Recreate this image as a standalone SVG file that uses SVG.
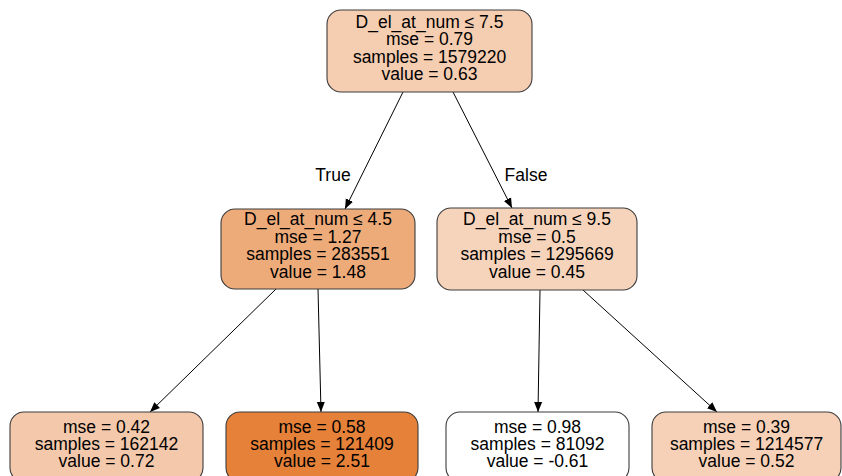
<svg xmlns="http://www.w3.org/2000/svg" width="842" height="476" viewBox="0 0 842 476">
  <style>
    .box { stroke: #3c3c3c; stroke-width: 1.1; }
    .lbl { font-family: "Liberation Sans", Arial, Helvetica, sans-serif; font-size: 17.5px; fill: #000; text-anchor: middle; }
    .edge { stroke: #000; stroke-width: 1; fill: none; marker-end: url(#arrow); }
  </style>
  <defs>
    <marker id="arrow" viewBox="0 0 10 10" refX="10" refY="5" markerWidth="10" markerHeight="10" markerUnits="userSpaceOnUse" orient="auto">
      <path d="M0,1 L10,5 L0,9 Z" fill="#000"/>
    </marker>
  </defs>
  <rect width="842" height="476" fill="#ffffff"/>

  <g id="edges">
    <line class="edge" x1="403" y1="92" x2="345" y2="209"/>
    <line class="edge" x1="453" y1="92" x2="512" y2="208"/>
    <line class="edge" x1="276" y1="289" x2="150" y2="412"/>
    <line class="edge" x1="318" y1="289" x2="321" y2="412"/>
    <line class="edge" x1="540" y1="290" x2="538" y2="412"/>
    <line class="edge" x1="583" y1="290" x2="717" y2="412"/>
    <text class="lbl" x="333" y="181">True</text>
    <text class="lbl" x="526" y="181">False</text>
  </g>

  <g id="node0">
    <rect class="box" x="327" y="10" width="205" height="82" rx="14" fill="#f5cdb0"/>
    <text class="lbl" x="429.5" y="27.5">D_el_at_num ≤ 7.5</text>
    <text class="lbl" x="429.5" y="45">mse = 0.79</text>
    <text class="lbl" x="429.5" y="62.5">samples = 1579220</text>
    <text class="lbl" x="429.5" y="80">value = 0.63</text>
  </g>

  <g id="node1">
    <rect class="box" x="221" y="209" width="194" height="80" rx="14" fill="#eeab7a"/>
    <text class="lbl" x="318" y="225">D_el_at_num ≤ 4.5</text>
    <text class="lbl" x="318" y="243">mse = 1.27</text>
    <text class="lbl" x="318" y="260">samples = 283551</text>
    <text class="lbl" x="318" y="278">value = 1.48</text>
  </g>

  <g id="node4">
    <rect class="box" x="437" y="208" width="200" height="82" rx="14" fill="#f6d4bc"/>
    <text class="lbl" x="537" y="225">D_el_at_num ≤ 9.5</text>
    <text class="lbl" x="537" y="243">mse = 0.5</text>
    <text class="lbl" x="537" y="260">samples = 1295669</text>
    <text class="lbl" x="537" y="278">value = 0.45</text>
  </g>

  <g id="node2">
    <rect class="box" x="10" y="412" width="193" height="70" rx="14" fill="#f4c9ab"/>
    <text class="lbl" x="106.5" y="433">mse = 0.42</text>
    <text class="lbl" x="106.5" y="450">samples = 162142</text>
    <text class="lbl" x="106.5" y="467">value = 0.72</text>
  </g>

  <g id="node3">
    <rect class="box" x="226" y="412" width="192" height="70" rx="14" fill="#e58139"/>
    <text class="lbl" x="322" y="433">mse = 0.58</text>
    <text class="lbl" x="322" y="450">samples = 121409</text>
    <text class="lbl" x="322" y="467">value = 2.51</text>
  </g>

  <g id="node5">
    <rect class="box" x="446" y="412" width="183" height="70" rx="14" fill="#ffffff"/>
    <text class="lbl" x="537.5" y="433">mse = 0.98</text>
    <text class="lbl" x="537.5" y="450">samples = 81092</text>
    <text class="lbl" x="537.5" y="467">value = -0.61</text>
  </g>

  <g id="node6">
    <rect class="box" x="652" y="412" width="189" height="70" rx="14" fill="#f6d1b7"/>
    <text class="lbl" x="746.5" y="433">mse = 0.39</text>
    <text class="lbl" x="746.5" y="450">samples = 1214577</text>
    <text class="lbl" x="746.5" y="467">value = 0.52</text>
  </g>
</svg>
